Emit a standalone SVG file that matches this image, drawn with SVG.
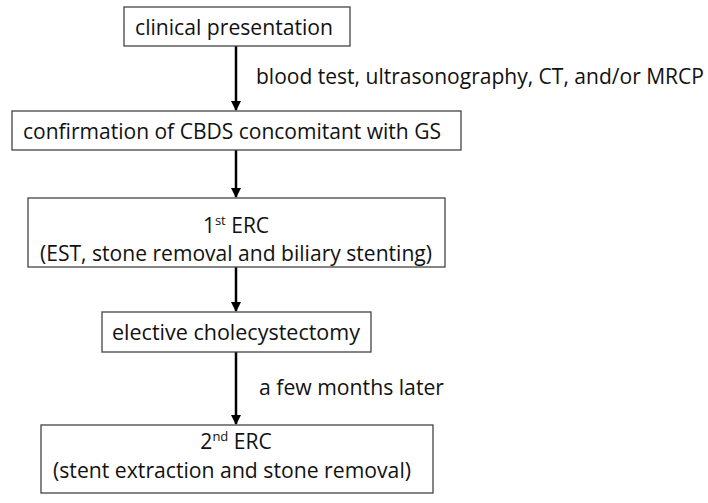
<svg xmlns="http://www.w3.org/2000/svg" width="708" height="503" viewBox="0 0 708 503">
<defs>
<style>
.b{fill:#fff;stroke:#444;stroke-width:1.3}
text{font-family:"Open Sans","Liberation Sans",sans-serif;font-size:21px;fill:#111}
.c{text-anchor:middle}
.l{stroke:#000;stroke-width:2.5}
</style>
<marker id="a" markerWidth="10" markerHeight="10" refX="9" refY="5" orient="auto" markerUnits="userSpaceOnUse"><path d="M0,0L10,5L0,10z" fill="#000"/></marker>
</defs>
<g id="connectors">
<line class="l" x1="236" y1="46" x2="236" y2="110" marker-end="url(#a)"/>
<line class="l" x1="236" y1="150" x2="236" y2="197" marker-end="url(#a)"/>
<line class="l" x1="236" y1="267" x2="236" y2="311" marker-end="url(#a)"/>
<line class="l" x1="236" y1="352" x2="236" y2="424" marker-end="url(#a)"/>
<text x="256" y="84" textLength="448" lengthAdjust="spacingAndGlyphs">blood test, ultrasonography, CT, and/or MRCP</text>
<text x="259" y="395" textLength="185" lengthAdjust="spacingAndGlyphs">a few months later</text>
</g>
<g id="n1"><rect class="b" x="124" y="7" width="226" height="39"/><text class="c" x="234" y="35" textLength="198" lengthAdjust="spacingAndGlyphs">clinical presentation</text></g>
<g id="n2"><rect class="b" x="12" y="111" width="449" height="39"/><text class="c" x="232" y="139" textLength="418" lengthAdjust="spacingAndGlyphs">confirmation of CBDS concomitant with GS</text></g>
<g id="n3"><rect class="b" x="28" y="198" width="417" height="69"/><text class="c" x="236" y="233">1<tspan font-size="13" dy="-8">st</tspan><tspan dy="8">  ERC</tspan></text><text class="c" x="236" y="261" textLength="392" lengthAdjust="spacingAndGlyphs">(EST, stone removal and biliary stenting)</text></g>
<g id="n4"><rect class="b" x="102" y="312" width="269" height="40"/><text class="c" x="236" y="340" textLength="248" lengthAdjust="spacingAndGlyphs">elective cholecystectomy</text></g>
<g id="n5"><rect class="b" x="41" y="425" width="392" height="68"/><text class="c" x="236" y="449">2<tspan font-size="13" dy="-8">nd</tspan><tspan dy="8"> ERC</tspan></text><text class="c" x="232" y="478" textLength="358" lengthAdjust="spacingAndGlyphs">(stent extraction and stone removal)</text></g>
</svg>
